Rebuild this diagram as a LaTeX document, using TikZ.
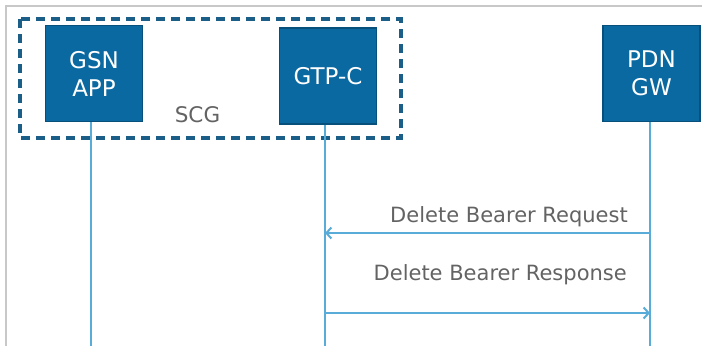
\documentclass[tikz,border=0pt]{standalone}
\usepackage{fontspec}
\setmainfont{DejaVu Sans}
\usepackage{tikz}
\usetikzlibrary{positioning,arrows.meta}
\definecolor{unitblue}{HTML}{0B69A2}
\definecolor{unitedge}{HTML}{08507C}
\definecolor{lifeblue}{HTML}{5AACD8}
\definecolor{groupblue}{HTML}{1B5E88}
\definecolor{msggray}{HTML}{636363}
\definecolor{framegray}{HTML}{C8C8C8}

\begin{document}
\begin{tikzpicture}[x=1pt,y=-1pt,inner sep=0pt,
  unit/.style={draw=unitedge,line width=1.2pt,fill=unitblue,text=white,
    minimum width=97pt,minimum height=96pt,align=center,
    font=\fontsize{23}{28}\selectfont},
  life/.style={draw=lifeblue,line width=2.2pt},
  msg/.style={draw=lifeblue,line width=2pt,-{Straight Barb[length=5pt,width=11pt]}},
  msgtext/.style={text=msggray,font=\fontsize{21}{25}\selectfont}]
\useasboundingbox (0,0) rectangle (702,346);
\draw[framegray,line width=1.8pt] (6,346) -- (6,6) -- (702,6);
% SCG group
\draw[groupblue,line width=3.2pt,dash pattern=on 9pt off 6pt] (20,19) rectangle (401,138);
\node[text=msggray,anchor=base,font=\fontsize{21.5}{25}\selectfont] (scg) at (197.5,122) {SCG};
% boxes
\node[unit] (gsn) at (94,73.5) {GSN\\APP};
\node[unit] (gtpc) at (328,76) {GTP-C};
\node[unit] (pdn) at (651.5,73.5) {PDN\\GW};
% lifelines
\coordinate (gsn-end) at (91,346);
\coordinate (gtpc-end) at (325,346);
\coordinate (pdn-end) at (650,346);
\draw[life] (gsn.south -| gsn-end) -- (gsn-end);
\draw[life] (gtpc.south -| gtpc-end) -- (gtpc-end);
\draw[life] (pdn.south -| pdn-end) -- (pdn-end);
% messages
\coordinate (req-p) at (650,233);
\coordinate (req-g) at (325,233);
\coordinate (rsp-g) at (325,313);
\coordinate (rsp-p) at (650,313);
\draw[msg] (req-p) -- (req-g);
\draw[msg] (rsp-g) -- (rsp-p);
\node[msgtext,anchor=base east] (req) at (628,222) {Delete Bearer Request};
\node[msgtext,anchor=base east] (rsp) at (627,280) {Delete Bearer Response};
\end{tikzpicture}
\end{document}
